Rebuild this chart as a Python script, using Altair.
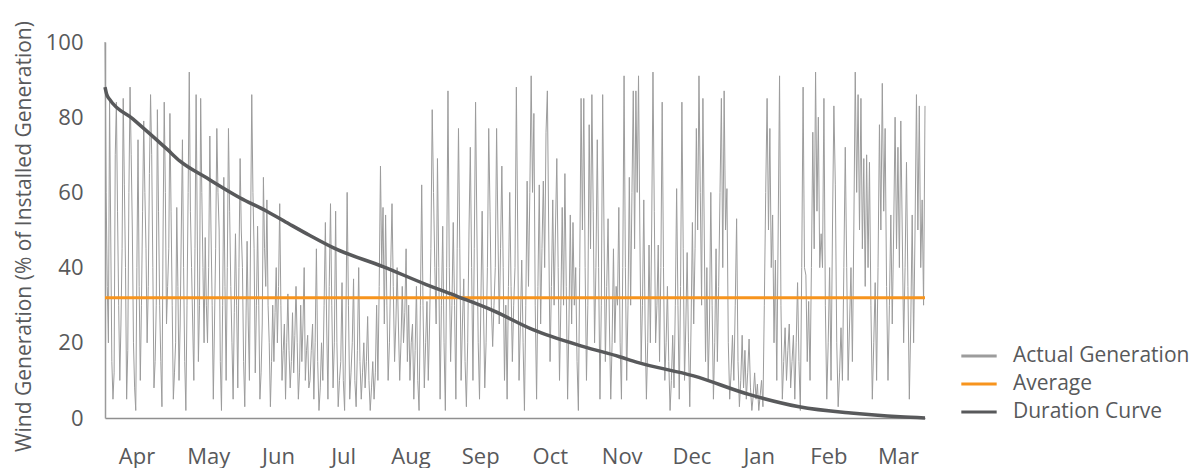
import altair as alt
import pandas as pd

# ---------------- data ----------------
# Actual generation, read in eight consecutive stretches of the year (Apr -> Mar)
seg1 = [100, 60, 35, 20, 85, 50, 15, 5, 12, 70, 84, 55, 30, 10, 25, 45, 85, 62, 40, 5,
        18, 60, 88, 70, 50, 20, 8, 2, 40, 74, 35, 10, 30, 55, 79, 60, 45, 20, 35, 65,
        86, 70, 40, 8, 15, 30, 82, 55, 30, 15, 3, 50, 84, 60, 25, 35, 45, 81, 55, 30,
        5, 12, 20, 56, 35, 10, 25, 50, 74, 40, 15, 2, 30, 60, 92, 55, 40, 25, 10, 45,
        86, 50, 15, 30, 85, 60, 40, 20, 48, 30]
seg2 = [20, 40, 75, 50, 30, 5, 25, 45, 77, 60, 50, 15, 2, 30, 64, 35, 10, 40, 77, 55,
        35, 20, 5, 28, 49, 30, 8, 40, 69, 50, 40, 15, 3, 25, 47, 25, 10, 50, 86, 60,
        45, 12, 30, 51, 30, 5, 12, 25, 64, 45, 35, 58, 30, 20, 3, 15, 30, 15, 28, 40,
        20, 35, 57, 30, 10, 18, 25, 5, 20, 33, 18, 8, 15, 28, 12, 22, 35, 20, 5, 12,
        30, 15, 25, 40, 10, 18, 22, 8]
seg3 = [10, 18, 25, 5, 20, 45, 15, 2, 8, 20, 10, 30, 52, 25, 5, 35, 57, 30, 8, 20,
        55, 20, 3, 10, 15, 36, 10, 2, 25, 60, 30, 5, 12, 20, 37, 10, 3, 18, 40, 15,
        5, 12, 20, 8, 15, 27, 10, 2, 8, 15, 5, 12, 30, 10, 35, 67, 40, 56, 25, 54,
        30, 10, 20, 40, 57, 35, 15, 25, 40, 25, 10, 20, 35, 20, 28, 45, 15, 30, 10, 20]
seg4 = [25, 5, 18, 35, 10, 2, 30, 62, 30, 8, 20, 31, 10, 25, 45, 82, 60, 40, 25, 69,
        40, 5, 30, 51, 20, 2, 40, 87, 40, 15, 30, 52, 30, 5, 45, 77, 45, 10, 25, 37,
        15, 3, 20, 50, 72, 40, 10, 45, 84, 50, 20, 5, 30, 55, 30, 8, 20, 40, 77, 55,
        30, 19, 30, 40, 77, 50, 25, 45, 67, 40, 10, 30, 5, 35, 60, 35, 15, 30]
seg5 = [40, 88, 50, 10, 25, 42, 20, 2, 30, 63, 35, 60, 91, 60, 81, 30, 5, 35, 62, 25,
        45, 63, 40, 76, 87, 50, 15, 35, 58, 30, 50, 69, 40, 10, 30, 56, 30, 65, 35, 5,
        25, 54, 25, 52, 30, 40, 15, 2, 40, 85, 50, 85, 40, 10, 30, 78, 45, 86, 55, 20,
        40, 74, 40, 5, 30, 86, 50, 15, 35, 53, 25, 5, 20, 45, 20, 35]
seg6 = [30, 56, 20, 5, 40, 91, 40, 10, 30, 64, 30, 60, 87, 45, 87, 60, 91, 50, 15, 30,
        58, 25, 5, 20, 46, 20, 50, 92, 55, 20, 30, 46, 15, 40, 84, 40, 10, 20, 35, 15,
        2, 10, 22, 8, 30, 61, 30, 5, 35, 84, 45, 10, 25, 44, 20, 3, 25, 52, 25, 45,
        77, 50, 91, 60, 30, 85, 50, 15, 40, 10, 25, 60, 30, 5, 20, 45, 15, 35]
seg7 = [60, 85, 40, 87, 50, 61, 20, 5, 12, 22, 10, 30, 53, 15, 3, 10, 22, 8, 18, 5,
        12, 21, 8, 2, 6, 12, 5, 9, 2, 6, 10, 3, 30, 60, 85, 50, 77, 40, 54, 20,
        42, 10, 50, 91, 30, 5, 15, 24, 10, 18, 25, 8, 15, 22, 5, 20, 36, 15, 2, 40,
        88, 40, 38, 15, 31, 10, 40, 76, 45, 92, 55, 80, 40, 49]
seg8 = [40, 85, 30, 5, 20, 40, 10, 50, 83, 62, 20, 3, 12, 24, 10, 40, 72, 40, 10, 25,
        40, 15, 50, 92, 60, 86, 50, 85, 45, 69, 35, 70, 40, 68, 30, 5, 20, 36, 10, 40,
        78, 50, 89, 55, 77, 35, 10, 30, 54, 25, 50, 80, 45, 72, 40, 79, 50, 20, 40, 68,
        35, 5, 25, 54, 20, 50, 86, 50, 83, 40, 58, 30, 83]
segments = [seg1, seg2, seg3, seg4, seg5, seg6, seg7, seg8]

average_value = 32

duration_days = [0, 0.8, 2, 12.5, 27.6, 33.4, 45.4, 60, 72, 82, 91, 101.5, 124, 143,
                 157, 173, 190.5, 213, 229, 237, 262, 287, 309, 332, 354, 365]
duration_vals = [88, 86, 84.8, 79.5, 71.5, 68.3, 63.8, 58.6, 55.0, 51.6, 48.6, 45.3,
                 40.2, 35.5, 32.3, 28.5, 23.5, 19, 16.3, 14.8, 11.2, 6.2, 3, 1.3, 0.3, 0]

month_labels = ["Apr", "May", "Jun", "Jul", "Aug", "Sep", "Oct", "Nov", "Dec",
                "Jan", "Feb", "Mar"]
month_ticks = [14, 46, 77, 106, 136, 167, 198, 230, 261, 291, 322, 353]
y_ticks = [0, 20, 40, 60, 80, 100]

series_names = ["Actual Generation", "Average", "Duration Curve"]
series_colors = ["#9c9c9c", "#f7941d", "#58595b"]

# ---------------- frames ----------------
days_total = 365
seg_len = days_total / len(segments)
rows = []
for k, seg in enumerate(segments):
    last = k == len(segments) - 1
    denom = (len(seg) - 1) if last else len(seg)
    for j, v in enumerate(seg):
        rows.append({"day": seg_len * (k + j / denom), "value": v,
                     "series": series_names[0]})
df_actual = pd.DataFrame(rows)
df_avg = pd.DataFrame({"day": [0, days_total], "value": [average_value] * 2,
                       "series": series_names[1]})
df_dur = pd.DataFrame({"day": duration_days, "value": duration_vals,
                       "series": series_names[2]})

label_expr = "{" + ",".join(f"'{t}':'{m}'" for t, m in zip(month_ticks, month_labels)) + "}[datum.value]"

FONT = "Open Sans"
TXT = "#58595b"
FS = 22

x_enc = alt.X("day:Q", scale=alt.Scale(domain=[0, days_total], nice=False, zero=False),
              axis=alt.Axis(values=month_ticks, labelExpr=label_expr, title=None,
                            ticks=False, grid=False, domainColor="#8f8f8f",
                            domainWidth=1.5, labelPadding=28, labelFontSize=FS,
                            labelFont=FONT, labelColor=TXT, labelFlush=False))
y_enc = alt.Y("value:Q", scale=alt.Scale(domain=[0, 100], nice=False),
              axis=alt.Axis(values=y_ticks, title="Wind Generation (% of Installed Generation)",
                            ticks=False, grid=False, domainColor="#9a9a9a",
                            domainWidth=1.5, labelPadding=22, labelFontSize=FS,
                            labelFont=FONT, labelColor=TXT, titleFont=FONT,
                            titleFontSize=21, titleFontWeight="normal",
                            titleColor=TXT, titlePadding=11, titleY=194))
color_enc = alt.Color("series:N",
                      scale=alt.Scale(domain=series_names, range=series_colors),
                      legend=alt.Legend(title=None, orient="none", legendX=858,
                                        legendY=298,
                                        symbolType="M-1.25,0H1.25",
                                        symbolStrokeWidth=3, symbolSize=800,
                                        labelFont=FONT, labelFontSize=21,
                                        labelColor=TXT, labelOffset=18,
                                        rowPadding=2, labelLimit=300))

actual_layer = alt.Chart(df_actual).mark_line(strokeWidth=1).encode(
    x=x_enc, y=y_enc, color=color_enc)
avg_layer = alt.Chart(df_avg).mark_line(strokeWidth=3).encode(
    x="day:Q", y="value:Q", color=color_enc)
dur_layer = alt.Chart(df_dur).mark_line(strokeWidth=3.5, interpolate="monotone").encode(
    x="day:Q", y="value:Q", color=color_enc)

chart = alt.layer(actual_layer, avg_layer, dur_layer).properties(
    width=820, height=376,
    autosize=alt.AutoSizeParams(type="none"),
    padding={"left": 97, "top": 34, "right": 265, "bottom": 54},
).configure_view(stroke=None)

chart.save("out.html", embed_options={"renderer": "svg", "actions": False})
